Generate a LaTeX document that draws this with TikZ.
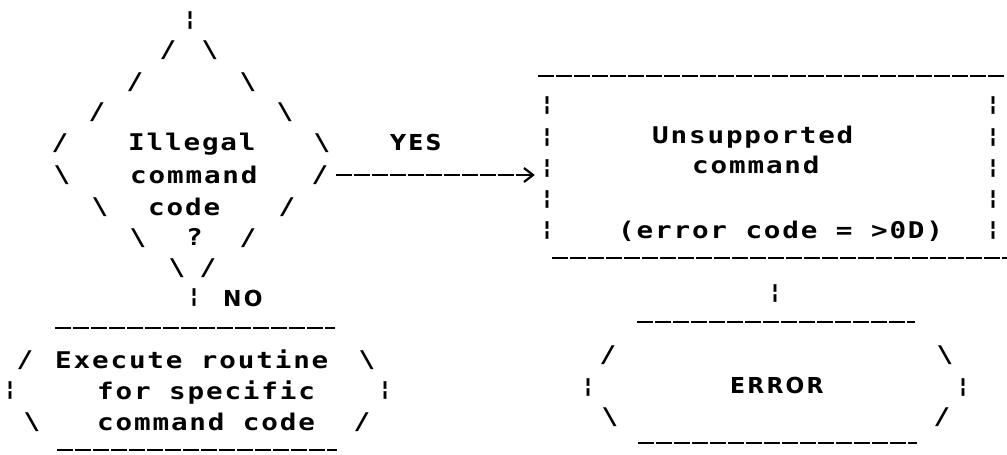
\documentclass[tikz,border=0pt]{standalone}
\usepackage{fontspec}
\usetikzlibrary{arrows.meta}
% Printer-style fonts: wide letters at a fixed dot-matrix pitch
\newfontfamily\prtfont{DejaVu Sans Mono Bold}[FakeStretch=1.2,LetterSpace=8]
\newfontfamily\barfont{DejaVu Sans Mono Bold}[FakeBold=1.5]
\newfontfamily\capfont{DejaVu Sans Bold}[LetterSpace=10]
\newcommand\prtsize{\fontsize{23pt}{26pt}\selectfont}
\newcommand\barsize{\fontsize{20pt}{22pt}\selectfont}
\newcommand\capsize{\fontsize{22pt}{24pt}\selectfont}
\begin{document}
\begin{tikzpicture}[x=1pt,y=-1pt,
  glyph/.style={inner sep=0pt,font={\prtfont\prtsize}},
  bar/.style={inner sep=0pt,font={\barfont\barsize}},
  txt/.style={anchor=base west,inner sep=0pt,font={\prtfont\prtsize}},
  lbl/.style={anchor=base west,inner sep=0pt,font={\capfont\capsize}},
  rule/.style={line width=1.8pt,dash pattern=on 16pt off 2pt},
  link/.style={line width=1.8pt,dash pattern=on 16pt off 2pt,
    -{Straight Barb[length=9pt,width=14pt,line width=2.2pt]}}]
\useasboundingbox (0,0) rectangle (1007,455);

% ---- decision diamond ----
\node[bar] (dTop) at (190,20) {¦};
\node[glyph] (dL1) at (168,50) {/};
\node[glyph] (dR1) at (210,50) {\textbackslash};
\node[glyph] (dL2) at (135,82) {/};
\node[glyph] (dR2) at (248,82) {\textbackslash};
\node[glyph] (dL3) at (97,112) {/};
\node[glyph] (dR3) at (285,112) {\textbackslash};
\node[glyph] (dW1) at (60,143) {/};
\node[glyph] (dE1) at (322,143) {\textbackslash};
\node[glyph] (dW2) at (62,175) {\textbackslash};
\node[glyph] (dE2) at (320,175) {/};
\node[glyph] (dL5) at (100,207) {\textbackslash};
\node[glyph] (dR5) at (287,207) {/};
\node[glyph] (dL6) at (138,238) {\textbackslash};
\node[glyph] (dR6) at (248,238) {/};
\node[glyph] (dL7) at (177,268) {\textbackslash};
\node[glyph] (dR7) at (208,268) {/};
\node[txt] (q1) at (128,150) {Illegal};
\node[txt] (q2) at (130,183) {command};
\node[txt] (q3) at (148,215) {code};
\node[txt] (q4) at (186,245) {?};
\node[bar] (dNo) at (194,297) {¦};
\node[lbl] (no) at (223,306) {NO};
\node[lbl] (yes) at (390,150) {YES};

% ---- execute routine box ----
\draw[rule] (55,328) -- (335,328);
\draw[rule] (57,450) -- (337,450);
\node[glyph] (xL1) at (25,360) {/};
\node[glyph] (xR1) at (367,360) {\textbackslash};
\node[bar] (xL2) at (10,390) {¦};
\node[bar] (xR2) at (385,390) {¦};
\node[glyph] (xL3) at (32,422) {\textbackslash};
\node[glyph] (xR3) at (362,422) {/};
\node[txt] (x1) at (55,368) {Execute routine};
\node[txt] (x2) at (97,399) {for specific};
\node[txt] (x3) at (97,430) {command code};

% ---- unsupported command box ----
\draw[rule] (538,76) -- (1005,76);
\draw[rule] (552,258) -- (1007,258);
\foreach \i/\y in {1/105,2/137,3/168,4/199,5/230}{
  \node[bar] (uL\i) at (547,\y) {¦};
  \node[bar] (uR\i) at (993,\y) {¦};
}
\node[txt] (u1) at (652,143) {Unsupported};
\node[txt] (u2) at (692,173) {command};
\node[txt] (u3) at (618,238) {(error code = >0D)};

% YES branch
\draw[link,shorten <=7pt,shorten >=6pt] (dE2.east) -- (dE2.east -| uL3.west);

% ---- error terminator ----
\node[bar] (eTop) at (775,293) {¦};
\draw[rule] (637,322) -- (915,322);
\draw[rule] (638,443) -- (917,443);
\node[glyph] (eL1) at (608,355) {/};
\node[glyph] (eR1) at (945,355) {\textbackslash};
\node[bar] (eL2) at (588,387) {¦};
\node[bar] (eR2) at (963,387) {¦};
\node[glyph] (eL3) at (610,417) {\textbackslash};
\node[glyph] (eR3) at (942,417) {/};
\node[lbl] (err) at (730,393) {ERROR};
\end{tikzpicture}
\end{document}
